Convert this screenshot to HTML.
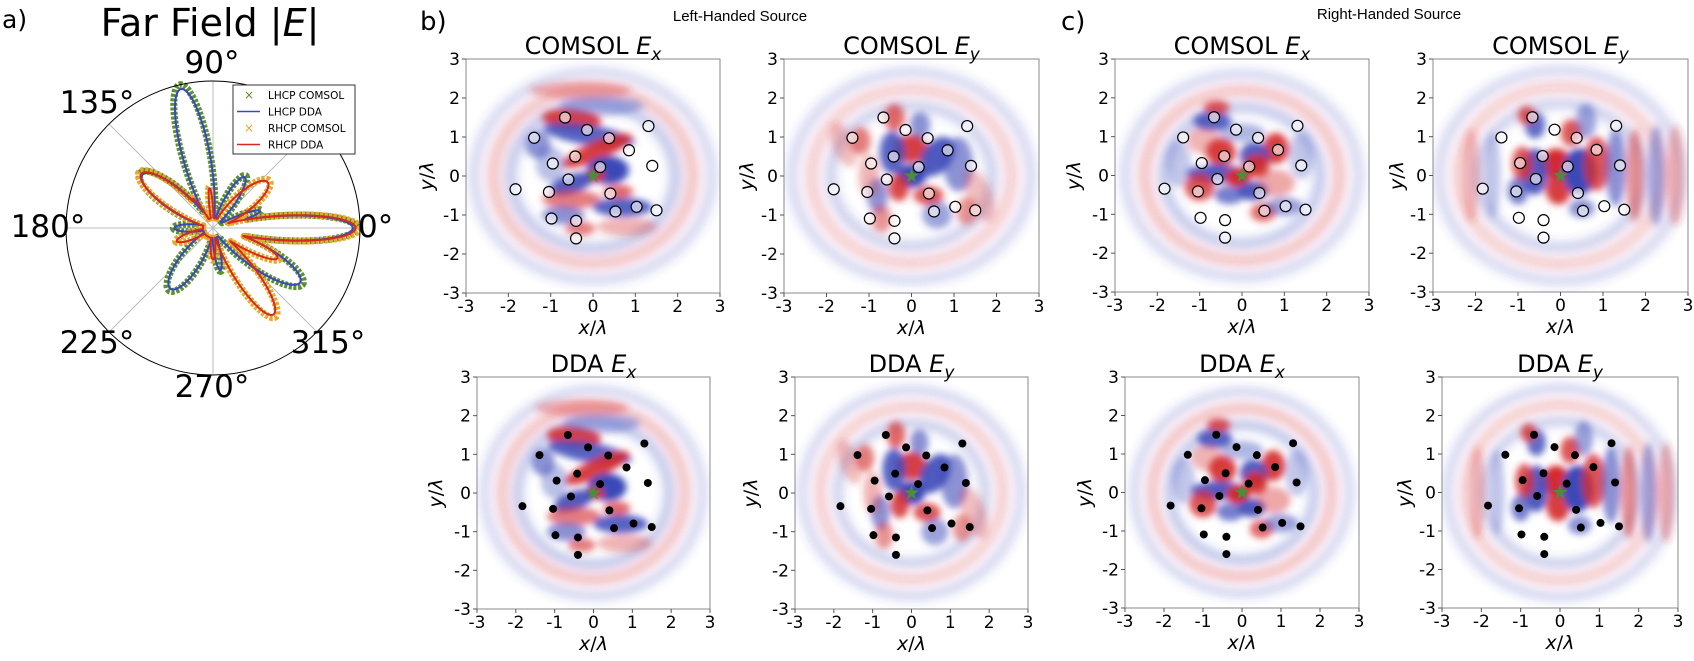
<!DOCTYPE html>
<html><head><meta charset="utf-8"><style>
html,body{margin:0;padding:0;background:#fff;}
svg{display:block;font-family:"DejaVu Sans","Liberation Sans",sans-serif;}
</style></head><body>
<svg id="s" width="1694" height="661" xmlns="http://www.w3.org/2000/svg">
<defs>
<filter id="bl" filterUnits="userSpaceOnUse" x="-5" y="-5" width="10" height="10"><feGaussianBlur stdDeviation="0.09"/></filter>
<filter id="bl2" filterUnits="userSpaceOnUse" x="-5" y="-5" width="10" height="10"><feGaussianBlur stdDeviation="0.12"/></filter>
</defs>
<text x="2" y="28" font-size="25">a)</text>
<text x="210" y="36" font-size="38" text-anchor="middle">Far Field |<tspan font-style="italic">E</tspan>|</text>
<text x="420" y="30" font-size="26">b)</text>
<text x="1061" y="30" font-size="26">c)</text>
<text x="740" y="21" font-size="15" text-anchor="middle" font-family="Liberation Sans, sans-serif">Left-Handed Source</text>
<text x="1389" y="19" font-size="15" text-anchor="middle" font-family="Liberation Sans, sans-serif">Right-Handed Source</text>
<g id="root"></g>
</svg>
<script>
const NS="http://www.w3.org/2000/svg";
const root=document.getElementById('root');
function el(t,a,p){const e=document.createElementNS(NS,t);for(const k in a)e.setAttribute(k,a[k]);(p||root).appendChild(e);return e;}
const R='#d42a2a',B='#3a48b8';
const P={
LEx:[[-0.5,1.45,.7,.26,-5,R,.9],[-0.1,1.05,1.1,.26,-10,B,.85],[0.1,0.65,.9,.24,25,R,.9],[0.35,0.15,.5,.36,0,B,1],[0.05,0,.22,.17,0,R,1],[-0.5,-0.2,.55,.24,20,B,.9],[-0.5,-0.6,.7,.24,0,R,.6],[0.7,-0.8,.7,.24,0,B,.85],[0.6,-0.4,.35,.18,0,R,.7],[-0.7,-1.0,.5,.24,0,B,.6],[-0.3,-1.35,.35,.18,0,R,.6],[0.8,-1.3,.7,.24,0,R,.35],[-1.3,0.8,.3,.35,0,B,.6],[-1.0,0.3,.35,.45,0,B,.35],[0.2,1.8,1.0,.25,0,B,.4],[-0.3,2.2,1.2,.22,0,R,.35]],
LEy:[[0.0,0.7,.4,.36,0,R,.9],[-0.45,0.6,.3,.55,0,B,.85],[0.6,0.5,.35,.55,-30,B,.9],[0.0,0.0,.35,.3,0,B,1],[-0.3,-0.3,.24,.35,0,R,.85],[0.4,-0.5,.35,.24,0,R,.8],[-0.8,-0.5,.24,.45,0,B,.6],[-1.2,0.9,.24,.35,0,R,.6],[1.1,0.3,.35,.7,0,B,.6],[1.3,-0.9,.24,.35,0,R,.5],[-0.7,-1.1,.24,.35,0,R,.5],[-0.4,1.5,.24,.35,0,R,.7],[0.2,1.3,.24,.35,0,B,.6],[0.6,-1.0,.35,.35,0,B,.5],[-1.0,0.0,.24,.55,0,R,.35],[-1.6,0.8,.25,.6,20,R,.3],[1.6,-0.5,.3,.7,20,R,.3]],
REx:[[-0.5,0.6,.35,.35,0,R,.9],[-0.7,1.4,.45,.24,0,B,.85],[-0.6,1.75,.3,.18,0,R,.8],[0.8,0.7,.3,.4,0,R,.9],[0.3,0.5,.35,.35,0,B,.9],[0.35,0.25,.3,.3,0,R,.9],[-0.6,0.05,.7,.24,0,B,.9],[-0.1,-0.05,.3,.24,0,R,1],[-1.0,-0.3,.35,.35,0,R,.8],[0.25,-0.4,.35,.24,0,B,.9],[-0.3,-0.5,.35,.24,0,B,.7],[0.5,-0.95,.3,.24,0,R,.7],[1.0,-0.8,.45,.24,0,B,.5],[0.8,-0.2,.45,.35,0,R,.4],[-0.9,0.9,.4,.35,0,R,.35],[0,1.1,.55,.24,0,B,.4],[-1.5,0.3,.3,.6,0,B,.3],[1.4,0.5,.3,.6,0,B,.3]],
REy:[[-0.1,0.3,.35,.4,0,R,1],[-0.05,-0.35,.3,.4,0,R,.9],[0.45,0.1,.4,.6,0,B,1],[-0.6,0.1,.3,.6,0,B,.9],[-0.9,0.3,.24,.45,0,R,.8],[-1.0,-0.4,.24,.35,0,B,.7],[0.85,0.3,.3,.7,0,R,.8],[1.3,0.2,.24,1.0,0,B,.6],[1.75,0,.2,1.2,0,R,.5],[2.25,0,.2,1.3,0,B,.45],[2.7,0,.2,1.3,0,R,.35],[-0.6,1.3,.24,.35,0,B,.8],[-0.8,1.55,.2,.24,0,R,.8],[0.25,1.1,.24,.35,0,R,.8],[0.5,-0.85,.3,.24,0,B,.6],[-1.6,0,.2,1.1,0,B,.3],[-2.1,0,.2,1.2,0,R,.3],[0.6,1.4,.24,.45,0,B,.5]]};
const rings={LEx:[[1.95,B,.3],[2.35,R,.3],[2.8,B,.2]],LEy:[[1.9,B,.25],[2.35,R,.25],[2.8,B,.2]],REx:[[1.85,B,.3],[2.3,R,.3],[2.75,B,.2]],REy:[[1.95,B,.25],[2.4,R,.25],[2.85,B,.2]]};
const pts=[[-0.66,1.5],[-1.39,0.98],[-0.14,1.18],[0.38,0.97],[1.31,1.28],[-0.42,0.5],[0.85,0.66],[-0.95,0.32],[0.17,0.23],[1.4,0.26],[-0.58,-0.09],[-1.83,-0.34],[-1.04,-0.41],[0.41,-0.45],[0.53,-0.91],[1.03,-0.79],[1.5,-0.88],[-0.98,-1.09],[-0.4,-1.15],[-0.4,-1.6]];
const panels=[
[466,720,59,293,'LEx',0,'COMSOL ','x',426],[784,1039,59,293,'LEy',0,'COMSOL ','y',746],
[477,710,377,609,'LEx',1,'DDA ','x',435],[795,1028,377,609,'LEy',1,'DDA ','y',750],
[1115,1369,59,292,'REx',0,'COMSOL ','x',1073],[1433,1688,59,292,'REy',0,'COMSOL ','y',1396],
[1125,1359,377,608,'REx',1,'DDA ','x',1084],[1442,1678,377,608,'REy',1,'DDA ','y',1404]];
panels.forEach((p,i)=>{
 const [x0,x1,y0,y1,pat,fill,t1,sub,ylx]=p;
 const ux=(x1-x0)/6,uy=(y1-y0)/6,cx=(x0+x1)/2,cy=(y0+y1)/2;
 const cp=el('clipPath',{id:'c'+i});el('rect',{x:x0,y:y0,width:x1-x0,height:y1-y0},cp);
 const g=el('g',{'clip-path':'url(#c'+i+')'});
 el('rect',{x:x0,y:y0,width:x1-x0,height:y1-y0,fill:'#fff'},g);
 const d=el('g',{transform:`translate(${cx},${cy}) scale(${ux},${-uy})`},g);
 const f2=el('g',{filter:'url(#bl2)'},d);
 rings[pat].forEach(r=>{el('ellipse',{cx:0,cy:0,rx:r[0],ry:r[0]*0.95,fill:'none',stroke:r[1],'stroke-opacity':r[2],'stroke-width':.28},f2);});
 const f=el('g',{filter:'url(#bl)'},d);
 P[pat].forEach(b=>{el('ellipse',{cx:b[0],cy:b[1],rx:b[2],ry:b[3],fill:b[5],'fill-opacity':b[6],transform:`rotate(${b[4]} ${b[0]} ${b[1]})`},f);});
 pts.forEach(q=>{const px=cx+q[0]*ux,py=cy-q[1]*uy;
  if(fill) el('circle',{cx:px,cy:py,r:4,fill:'#000'},g);
  else el('circle',{cx:px,cy:py,r:5.5,fill:'#fff','fill-opacity':.6,stroke:'#000','stroke-width':1.2},g);});
 let s='';for(let k=0;k<10;k++){const a=-Math.PI/2+k*Math.PI/5,r=k%2?3.2:8;s+=(cx+r*Math.cos(a)).toFixed(1)+','+(cy+r*Math.sin(a)).toFixed(1)+' ';}
 el('polygon',{points:s,fill:'#4e8c3c'},g);
 el('rect',{x:x0,y:y0,width:x1-x0,height:y1-y0,fill:'none',stroke:'#888','stroke-width':1});
 for(let v=-3;v<=3;v++){
  const tx=cx+v*ux,ty=cy-v*uy;
  el('line',{x1:tx,y1:y1,x2:tx,y2:y1+4,stroke:'#555'});
  el('line',{x1:x0-4,y1:ty,x2:x0,y2:ty,stroke:'#555'});
  let t=el('text',{x:tx,y:y1+19,'font-size':17,'text-anchor':'middle'});t.textContent=v;
  t=el('text',{x:x0-6,y:ty+6,'font-size':17,'text-anchor':'end'});t.textContent=v;
 }
 let t=el('text',{x:cx,y:y0-5,'font-size':24,'text-anchor':'middle'});
 t.appendChild(document.createTextNode(t1));
 let e=el('tspan',{'font-style':'italic'},t);e.textContent='E';
 e=el('tspan',{'font-style':'italic','font-size':17,dy:6},t);e.textContent=sub;
 t=el('text',{x:cx,y:y1+41,'font-size':19,'text-anchor':'middle'});t.innerHTML='<tspan font-style="italic">x</tspan>/<tspan font-style="italic">λ</tspan>';
 t=el('text',{x:0,y:0,'font-size':19,'text-anchor':'middle',transform:`translate(${ylx+7},${cy}) rotate(-90)`});t.innerHTML='<tspan font-style="italic">y</tspan>/<tspan font-style="italic">λ</tspan>';
});
const PX=213,PY=228,PR=147;
for(let a=0;a<360;a+=45){const r=a*Math.PI/180;el('line',{x1:PX,y1:PY,x2:PX+PR*Math.cos(r),y2:PY-PR*Math.sin(r),stroke:'#bbb','stroke-width':1});}
function curve(lobes,scale,col,w,dash){
 let d='';for(let k=0;k<=720;k++){const th=k/2;let r=0.07;
  lobes.forEach(l=>{let dd=((th-l[0])%360+540)%360-180;r=Math.max(r,l[1]*Math.exp(-(dd/l[2])*(dd/l[2])));});
  r*=scale;const a=th*Math.PI/180;d+=(k?'L':'M')+(PX+PR*r*Math.cos(a)).toFixed(1)+','+(PY-PR*r*Math.sin(a)).toFixed(1);}
 el('path',{d:d+'Z',fill:'none',stroke:col,'stroke-width':w,'stroke-dasharray':dash||'none','stroke-linejoin':'round'});}
const L=[[103,1.0,13],[0,0.98,12],[143,0.62,17],[-32,0.72,16],[235,0.52,19],[58,0.42,13],[180,0.27,13],[280,0.3,10],[92,0.3,6],[20,0.35,8]];
const Rh=[[0,1.0,12],[40,0.5,18],[143,0.63,16],[-55,0.74,14],[-25,0.5,11],[95,0.28,6],[200,0.27,13],[270,0.22,10],[125,0.25,8]];
curve(L,1.0,'#5a8f32',7,'3 1.5');curve(Rh,1.0,'#e8a82a',7,'3 1.5');
curve(L,0.97,'#3a48c0',2);curve(Rh,0.97,'#d42a20',2);
el('circle',{cx:PX,cy:PY,r:PR,fill:'none',stroke:'#000','stroke-width':1});
[['90°',212,73,'middle'],['135°',97,113,'middle'],['180°',48,237,'middle'],['0°',358,237,'start'],['225°',97,353,'middle'],['270°',212,397,'middle'],['315°',328,353,'middle']].forEach(a=>{const t=el('text',{x:a[1],y:a[2],'font-size':31,'text-anchor':a[3]});t.textContent=a[0];});
el('rect',{x:233,y:85,width:122,height:69,fill:'#fff',stroke:'#333','stroke-width':1});
[['LHCP COMSOL','#5a8f32',1],['LHCP DDA','#3a48c0',0],['RHCP COMSOL','#e8a82a',1],['RHCP DDA','#d42a20',0]].forEach((l,i)=>{
 const y=95+i*16.5;
 if(l[2]){const t=el('text',{x:249,y:y+4,'font-size':12,'text-anchor':'middle',fill:l[1]});t.textContent='×';}
 else el('line',{x1:237,y1:y,x2:260,y2:y,stroke:l[1],'stroke-width':1.6});
 const t=el('text',{x:268,y:y+4,'font-size':10.5});t.textContent=l[0];});
</script>
</body></html>
